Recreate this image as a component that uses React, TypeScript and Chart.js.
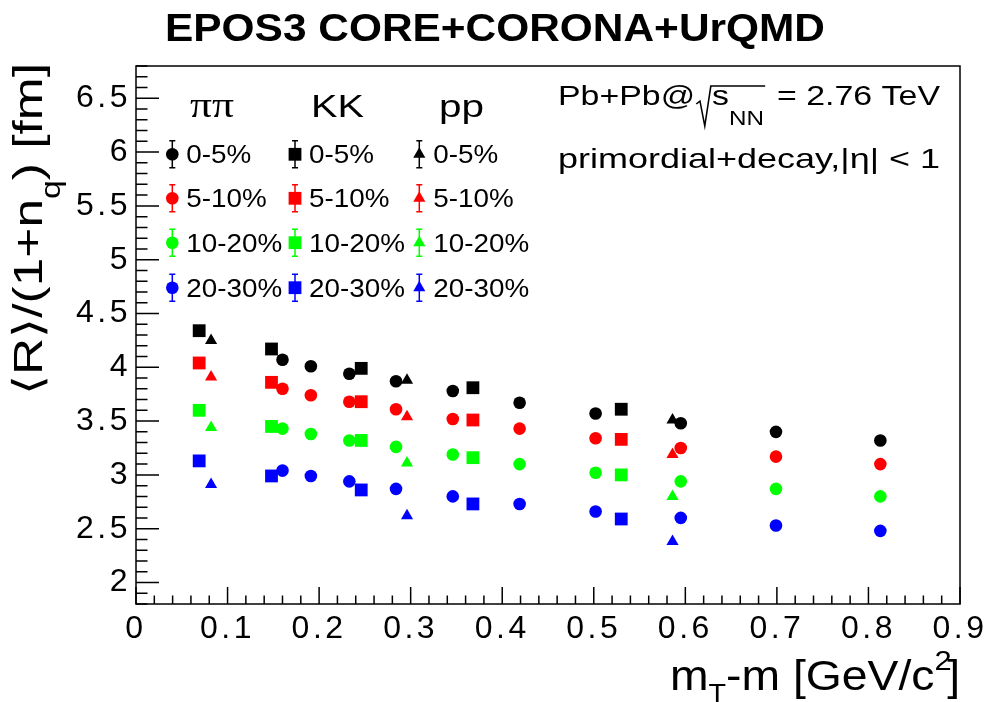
import React, { useEffect, useRef } from 'react';
import { Chart, registerables } from 'chart.js';

Chart.register(...registerables);

const SANS = '"Liberation Sans", Arial, Helvetica, sans-serif';
const SERIF = '"Liberation Serif", "Times New Roman", serif';

// ---- axis ranges and tick labels ----
const xRange = [0, 0.9];
const yRange = [1.8, 6.8];
const xTicks = [0, 0.1, 0.2, 0.3, 0.4, 0.5, 0.6, 0.7, 0.8, 0.9];
const yTicks = [2, 2.5, 3, 3.5, 4, 4.5, 5, 5.5, 6, 6.5];

// ---- categories ----
const centralities = ['0-5%', '5-10%', '10-20%', '20-30%'];
const centralityColors = ['#000000', '#ff0000', '#00ff00', '#0000ff'];
const pairLabels = ['ππ', 'KK', 'pp'];

// ---- ππ (circles) ----
const pionX = [0.160, 0.191, 0.233, 0.284, 0.346, 0.419, 0.502, 0.595, 0.699, 0.813];
const pion0_5 = [4.07, 4.01, 3.94, 3.87, 3.78, 3.67, 3.57, 3.48, 3.40, 3.32];
const pion5_10 = [3.80, 3.74, 3.68, 3.61, 3.52, 3.43, 3.34, 3.25, 3.17, 3.10];
const pion10_20 = [3.43, 3.38, 3.32, 3.26, 3.19, 3.10, 3.02, 2.94, 2.87, 2.80];
const pion20_30 = [3.04, 2.99, 2.94, 2.87, 2.80, 2.73, 2.66, 2.60, 2.53, 2.48];

// ---- KK (squares) ----
const kaonX = [0.069, 0.148, 0.246, 0.368, 0.530];
const kaon0_5 = [4.34, 4.17, 3.99, 3.81, 3.61];
const kaon5_10 = [4.04, 3.86, 3.68, 3.51, 3.33];
const kaon10_20 = [3.60, 3.45, 3.32, 3.16, 3.00];
const kaon20_30 = [3.13, 2.99, 2.86, 2.73, 2.59];

// ---- pp (triangles) ----
const protonX = [0.082, 0.296, 0.586];
const proton0_5 = [4.25, 3.88, 3.51];
const proton5_10 = [3.91, 3.54, 3.19];
const proton10_20 = [3.44, 3.11, 2.80];
const proton20_30 = [2.91, 2.62, 2.38];

const pionSeries = [pion0_5, pion5_10, pion10_20, pion20_30];
const kaonSeries = [kaon0_5, kaon5_10, kaon10_20, kaon20_30];
const protonSeries = [proton0_5, proton5_10, proton10_20, proton20_30];

type Seg = { t: string; size: number; dy?: number; family?: string; weight?: string; gap?: number };

function fontOf(s: Seg) {
  return `${s.weight || 'normal'} ${s.size}px ${s.family || SANS}`;
}

function drawRich(
  ctx: CanvasRenderingContext2D,
  segs: Seg[],
  x: number,
  y: number,
  o: { align?: 'left' | 'center' | 'right'; width?: number; sx?: number; color?: string; rotate?: boolean }
) {
  ctx.save();
  (ctx as any).letterSpacing = '0px';
  const widths: number[] = [];
  let nat = 0;
  for (const s of segs) {
    ctx.font = fontOf(s);
    const w = ctx.measureText(s.t).width;
    widths.push(w);
    nat += w + (s.gap || 0);
  }
  const sx = o.width ? o.width / nat : o.sx || 1;
  const total = nat * sx;
  ctx.translate(x, y);
  if (o.rotate) ctx.rotate(-Math.PI / 2);
  const start = o.align === 'center' ? -total / 2 : o.align === 'right' ? -total : 0;
  ctx.translate(start, 0);
  ctx.scale(sx, 1);
  ctx.fillStyle = o.color || '#000';
  ctx.textAlign = 'left';
  ctx.textBaseline = 'alphabetic';
  let cx = 0;
  segs.forEach((s, i) => {
    ctx.font = fontOf(s);
    ctx.fillText(s.t, cx, s.dy || 0);
    cx += widths[i] + (s.gap || 0);
  });
  ctx.restore();
}

function drawMarker(ctx: CanvasRenderingContext2D, kind: number, x: number, y: number, color: string) {
  ctx.fillStyle = color;
  ctx.beginPath();
  if (kind === 0) {
    ctx.arc(x, y, 6.3, 0, Math.PI * 2);
  } else if (kind === 1) {
    ctx.rect(x - 6.4, y - 6.4, 12.8, 12.8);
  } else {
    const r = 7;
    ctx.moveTo(x, y - r);
    ctx.lineTo(x + r * 0.866, y + r * 0.5);
    ctx.lineTo(x - r * 0.866, y + r * 0.5);
    ctx.closePath();
  }
  ctx.fill();
}

const decorPlugin = {
  id: 'decor',
  beforeDraw(chart: any) {
    chart.ctx.letterSpacing = '3.5px';
  },
  beforeDatasetsDraw(chart: any) {
    chart.ctx.letterSpacing = '0px';
  },
  afterDraw(chart: any) {
    const ctx: CanvasRenderingContext2D = chart.ctx;
    (ctx as any).letterSpacing = '0px';
    const { left, right, top, bottom } = chart.chartArea;
    const xs = chart.scales.x;
    const ys = chart.scales.y;

    // frame and inward ticks
    ctx.save();
    ctx.strokeStyle = '#000';
    ctx.lineWidth = 1.5;
    ctx.strokeRect(left, top, right - left, bottom - top);
    ctx.beginPath();
    for (let i = 0; i <= 45; i++) {
      const px = xs.getPixelForValue(i * 0.02);
      const len = i % 5 === 0 ? 17 : 8.5;
      ctx.moveTo(px, bottom);
      ctx.lineTo(px, bottom - len);
    }
    for (let i = 18; i <= 68; i++) {
      const py = ys.getPixelForValue(i / 10);
      const len = i % 5 === 0 ? 23 : 11.5;
      ctx.moveTo(left, py);
      ctx.lineTo(left + len, py);
    }
    ctx.stroke();
    ctx.restore();

    // title
    drawRich(ctx, [{ t: 'EPOS3 CORE+CORONA+UrQMD', size: 38, weight: 'bold' }], 495, 41, {
      align: 'center',
      width: 660,
    });

    // x title
    drawRich(
      ctx,
      [
        { t: 'm', size: 42 },
        { t: 'T', size: 26, dy: 12 },
        { t: '-m [GeV/c', size: 42 },
        { t: '2', size: 28, dy: -20, gap: -4 },
        { t: ']', size: 42 },
      ],
      960,
      690,
      { align: 'right', width: 290 }
    );

    // y title (rotated)
    drawRich(
      ctx,
      [
        { t: '⟨R⟩/(1+n', size: 41 },
        { t: 'q', size: 27, dy: 18 },
        { t: ') [fm]', size: 41 },
      ],
      42,
      395,
      { rotate: true, width: 332 }
    );

    // legend headers
    drawRich(ctx, [{ t: pairLabels[0], size: 36, family: SERIF }], 190, 117, { width: 44 });
    drawRich(ctx, [{ t: pairLabels[1], size: 32 }], 311, 117, { width: 53 });
    drawRich(ctx, [{ t: pairLabels[2], size: 32 }], 439, 117, { width: 45 });

    // legend entries
    const colMarkerX = [172.3, 295, 419.3];
    const rowY = [154.3, 198.3, 242.7, 287.7];
    for (let c = 0; c < 3; c++) {
      for (let r = 0; r < 4; r++) {
        const mx = colMarkerX[c];
        const my = rowY[r];
        const col = centralityColors[r];
        ctx.save();
        ctx.strokeStyle = col;
        ctx.lineWidth = 1.5;
        ctx.beginPath();
        ctx.moveTo(mx, my - 13.5);
        ctx.lineTo(mx, my + 13.5);
        ctx.moveTo(mx - 3, my - 13.5);
        ctx.lineTo(mx + 3, my - 13.5);
        ctx.moveTo(mx - 3, my + 13.5);
        ctx.lineTo(mx + 3, my + 13.5);
        ctx.stroke();
        drawMarker(ctx, c, mx, my, col);
        ctx.restore();
        drawRich(ctx, [{ t: centralities[r], size: 26 }], mx + 14, my + 9, { sx: 1.07 });
      }
    }

    // Pb+Pb @ sqrt(s_NN) = 2.76 TeV
    {
      ctx.save();
      (ctx as any).letterSpacing = '0px';
      const f28 = `normal 28px ${SANS}`;
      const f20 = `normal 20px ${SANS}`;
      ctx.font = f28;
      const w1 = ctx.measureText('Pb+Pb@').width;
      const ws = ctx.measureText('s').width;
      const w3 = ctx.measureText(' = 2.76 TeV').width;
      ctx.font = f20;
      const wNN = ctx.measureText('NN').width;
      const radW = 13;
      const nat = w1 + 1 + radW + ws + wNN + 3 + w3;
      const sx = 382 / nat;
      ctx.translate(558, 105);
      ctx.scale(sx, 1);
      ctx.fillStyle = '#000';
      ctx.textAlign = 'left';
      ctx.textBaseline = 'alphabetic';
      ctx.font = f28;
      ctx.fillText('Pb+Pb@', 0, 0);
      const a = w1 + 1;
      ctx.strokeStyle = '#000';
      ctx.lineWidth = 1.3;
      ctx.beginPath();
      ctx.moveTo(a, -1);
      ctx.lineTo(a + 3, -4);
      ctx.lineTo(a + 7, 21);
      ctx.lineTo(a + 12, -19);
      ctx.lineTo(a + radW + ws + wNN + 1, -19);
      ctx.stroke();
      ctx.fillText('s', a + radW, 0);
      ctx.font = f20;
      ctx.fillText('NN', a + radW + ws, 20);
      ctx.font = f28;
      ctx.fillText(' = 2.76 TeV', a + radW + ws + wNN + 3, 0);
      ctx.restore();
    }

    drawRich(ctx, [{ t: 'primordial+decay,|η| < 1', size: 28 }], 558, 168, { width: 382 });
  },
};

export default function App() {
  const canvasRef = useRef<HTMLCanvasElement | null>(null);

  useEffect(() => {
    const canvas = canvasRef.current;
    if (!canvas) return;

    const datasets: any[] = [];
    const groups = [
      { xs: pionX, series: pionSeries, style: 'circle', radius: 6.3, name: pairLabels[0] },
      { xs: kaonX, series: kaonSeries, style: 'rect', radius: 9.05, name: pairLabels[1] },
      { xs: protonX, series: protonSeries, style: 'triangle', radius: 7, name: pairLabels[2] },
    ];
    groups.forEach((g) => {
      g.series.forEach((vals, ci) => {
        datasets.push({
          label: `${g.name} ${centralities[ci]}`,
          data: vals.map((v, i) => ({ x: g.xs[i], y: v })),
          pointStyle: g.style,
          pointRadius: g.radius,
          pointHoverRadius: g.radius,
          pointBackgroundColor: centralityColors[ci],
          pointBorderColor: centralityColors[ci],
          pointBorderWidth: 0,
          backgroundColor: centralityColors[ci],
          borderColor: centralityColors[ci],
          showLine: false,
        });
      });
    });

    const chart = new Chart(canvas, {
      type: 'scatter',
      data: { datasets },
      options: {
        responsive: false,
        animation: false,
        devicePixelRatio: 1,
        layout: { padding: { left: 0, right: 30, top: 66, bottom: 0 } },
        plugins: {
          legend: { display: false },
          title: { display: false },
          tooltip: { enabled: false },
        },
        scales: {
          x: {
            type: 'linear',
            min: xRange[0],
            max: xRange[1],
            grid: { display: false, drawTicks: false },
            border: { display: false },
            afterBuildTicks: (scale: any) => {
              scale.ticks = xTicks.map((v) => ({ value: v }));
            },
            afterFit: (scale: any) => {
              scale.height = 98;
            },
            ticks: {
              color: '#000',
              padding: 6,
              maxRotation: 0,
              autoSkip: false,
              font: { family: SANS, size: 32 },
              callback: (v: any) => String(v),
            },
          },
          y: {
            type: 'linear',
            min: yRange[0],
            max: yRange[1],
            grid: { display: false, drawTicks: false },
            border: { display: false },
            afterBuildTicks: (scale: any) => {
              scale.ticks = yTicks.map((v) => ({ value: v }));
            },
            afterFit: (scale: any) => {
              scale.width = 136;
            },
            ticks: {
              color: '#000',
              padding: 5,
              autoSkip: false,
              font: { family: SANS, size: 32 },
              callback: (v: any) => String(v),
            },
          },
        },
      },
      plugins: [decorPlugin],
    });

    return () => {
      chart.destroy();
    };
  }, []);

  return (
    <div style={{ position: 'fixed', left: 0, top: 0, width: 990, height: 702, background: '#fff' }}>
      <canvas ref={canvasRef} width={990} height={702} style={{ display: 'block' }} />
    </div>
  );
}
